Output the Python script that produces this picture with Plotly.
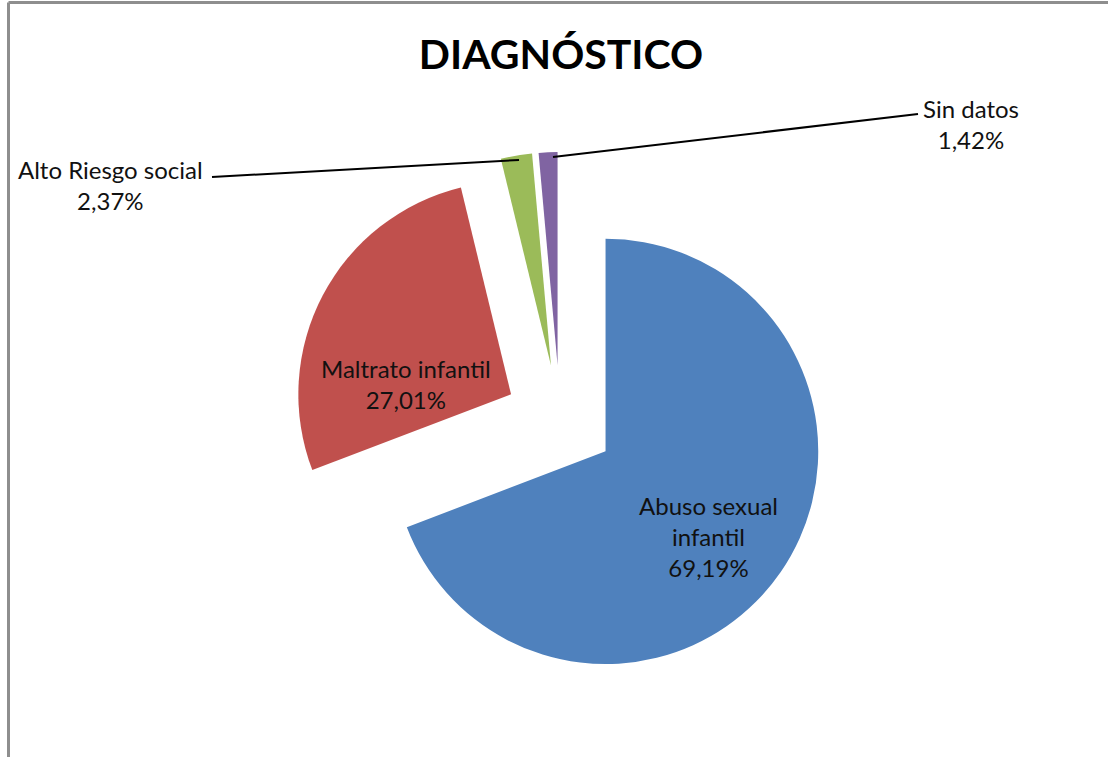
import plotly.graph_objects as go

# data
categories = ["Abuso sexual infantil", "Maltrato infantil", "Alto Riesgo social", "Sin datos"]
display_names = ["Abuso sexual<br>infantil", "Maltrato infantil", "Alto Riesgo social", "Sin datos"]
shares = [69.19, 27.01, 2.37, 1.42]

COLORS = ["#4f81bd", "#c0504d", "#9bbb59", "#8064a2"]
FONT = "Lato, 'Open Sans', sans-serif"
W, H = 1108, 757

# label centres in pixels, and leader lines for the two small slices
LABEL_POS = [(708, 536), (406, 384), (110, 185), (971, 124)]
LEADERS = {2: ((212, 177), (519, 160)), 3: ((553, 157), (918, 114))}


def px(x, y):
    # pixel position -> paper coords
    return x / W, 1 - y / H


fig = go.Figure()
fig.add_trace(
    go.Pie(
        labels=categories,
        values=shares,
        textinfo="none",
        marker={"colors": COLORS, "line": {"width": 0}},
        pull=[0.26] * 4,
        sort=False,
        direction="clockwise",
        rotation=0,
        hoverinfo="skip",
        showlegend=False,
        domain={"x": [292 / W, 828 / W], "y": [1 - 688 / H, 1 - 152 / H]},
    )
)

for i, name in enumerate(display_names):
    ax, ay = px(*LABEL_POS[i])
    fig.add_annotation(
        x=ax, y=ay, xref="paper", yref="paper", xanchor="center", yanchor="middle",
        showarrow=False, align="center",
        text=f"{name}<br>{shares[i]:.2f}%".replace(".", ","),
        font={"family": FONT, "size": 24, "color": "#111111"},
    )
    if i in LEADERS:
        (x0, y0), (x1, y1) = LEADERS[i]
        a0, b0 = px(x0, y0)
        a1, b1 = px(x1, y1)
        fig.add_shape(type="line", xref="paper", yref="paper", x0=a0, y0=b0, x1=a1, y1=b1,
                      line={"color": "#000000", "width": 2})

# chart frame (left and top edges visible in the crop)
fx, fy = px(8.5, 2.5)
fig.add_shape(type="line", xref="paper", yref="paper", x0=fx, y0=0, x1=fx, y1=fy,
              line={"color": "#8e8e8e", "width": 3})
fig.add_shape(type="line", xref="paper", yref="paper", x0=fx, y0=fy, x1=1, y1=fy,
              line={"color": "#8e8e8e", "width": 3})

fig.update_layout(
    width=W,
    height=H,
    margin={"l": 0, "r": 0, "t": 0, "b": 0},
    paper_bgcolor="#ffffff",
    plot_bgcolor="#ffffff",
    title={
        "text": "<b>DIAGNÓSTICO</b>",
        "x": 561 / W,
        "xanchor": "center",
        "y": 1 - 55 / H,
        "yanchor": "middle",
        "yref": "container",
        "font": {"family": FONT, "size": 41, "color": "#000000"},
    },
)

fig.write_html("out.html", config={"displayModeBar": False},
               post_script="document.body.style.margin='0';")
